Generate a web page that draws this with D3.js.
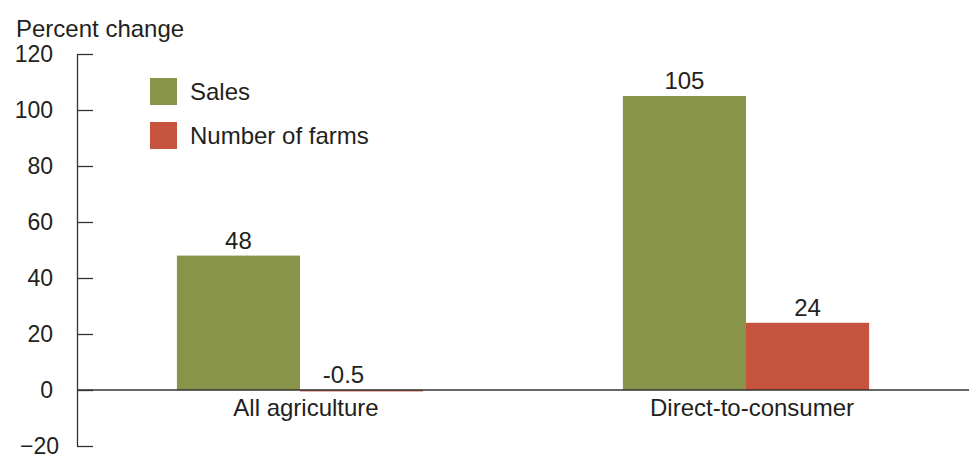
<!DOCTYPE html>
<html>
<head>
<meta charset="utf-8">
<script src="https://cdn.jsdelivr.net/npm/d3@7"></script>
<style>
  body { margin: 0; background: #fff; }
  text { font-family: "Liberation Sans", Arial, sans-serif; fill: #231f20; }
</style>
</head>
<body>
<svg id="chart" width="977" height="461"></svg>
<script>
// data
const categories = ["All agriculture", "Direct-to-consumer"];
const seriesNames = ["Sales", "Number of farms"];
const sales = [48, 105];
const farms = [-0.5, 24];
const valueLabels = [["48", "-0.5"], ["105", "24"]];
const yTicks = [-20, 0, 20, 40, 60, 80, 100, 120];

const colors = ["#88944a", "#c5533d"];

var svg = d3.select("#chart"),
    mLeft = 77, mRight = 969, mTop = 54, mBottom = 446;

var y = d3.scaleLinear().domain([-20, 120]).range([mBottom, mTop]);

var x = d3.scaleBand()
    .domain(categories)
    .range([mLeft, mRight])
    .paddingInner(0.448)
    .paddingOuter(0.224);

var xs = d3.scaleBand()
    .domain(seriesNames)
    .range([0, x.bandwidth()]);

// y axis
var yAxis = svg.append("g")
    .attr("transform", "translate(" + mLeft + ",0)")
    .call(d3.axisRight(y).tickValues(yTicks).tickSize(16).tickSizeOuter(0).tickFormat(""));
yAxis.select(".domain").attr("stroke", "#333").attr("stroke-width", 1.3);
yAxis.selectAll(".tick line").attr("stroke", "#333").attr("stroke-width", 1.3);

svg.append("g").selectAll("text")
    .data(yTicks)
    .enter().append("text")
    .attr("x", function(d) { return d < 0 ? 59 : 53; })
    .attr("y", function(d) { return y(d); })
    .attr("dy", "0.36em")
    .attr("text-anchor", "end")
    .style("font-size", "23px")
    .text(function(d) { return d < 0 ? "\u2212" + Math.abs(d) : d; });

svg.append("text")
    .attr("x", 16)
    .attr("y", 37)
    .style("font-size", "24px")
    .text("Percent change");

// bars
var rows = categories.map(function(c, i) {
  return { cat: c, vals: [sales[i], farms[i]], labels: valueLabels[i] };
});

var grp = svg.selectAll(".grp")
    .data(rows)
    .enter().append("g")
    .attr("transform", function(d) { return "translate(" + x(d.cat) + ",0)"; });

grp.selectAll("rect")
    .data(function(d) { return d.vals.map(function(v, j) { return { v: v, s: seriesNames[j], j: j }; }); })
    .enter().append("rect")
    .attr("x", function(d) { return xs(d.s); })
    .attr("width", xs.bandwidth())
    .attr("y", function(d) { return y(Math.max(0, d.v)); })
    .attr("height", function(d) { return Math.abs(y(d.v) - y(0)); })
    .attr("fill", function(d) { return colors[d.j]; });

grp.selectAll(".val")
    .data(function(d) { return d.vals.map(function(v, j) { return { v: v, s: seriesNames[j], t: d.labels[j] }; }); })
    .enter().append("text")
    .attr("class", "val")
    .attr("x", function(d) { return xs(d.s) + xs.bandwidth() / 2 - (d.v < 0 ? 18 : 0); })
    .attr("y", function(d) { return y(Math.max(0, d.v)) - 7; })
    .attr("text-anchor", "middle")
    .style("font-size", "24px")
    .text(function(d) { return d.t; });

// zero line
svg.append("line")
    .attr("x1", mLeft).attr("x2", mRight)
    .attr("y1", y(0)).attr("y2", y(0))
    .attr("stroke", "#333").attr("stroke-width", 1.3);

// category labels
svg.selectAll(".cat")
    .data(categories)
    .enter().append("text")
    .attr("x", function(d) { return x(d) + x.bandwidth() / 2 + 6; })
    .attr("y", 416)
    .attr("text-anchor", "middle")
    .style("font-size", "24px")
    .text(function(d) { return d; });

// legend
var leg = svg.selectAll(".leg")
    .data(seriesNames)
    .enter().append("g")
    .attr("transform", function(d, i) { return "translate(150," + (78 + i * 44) + ")"; });
leg.append("rect")
    .attr("width", 27).attr("height", 27)
    .attr("fill", function(d, i) { return colors[i]; });
leg.append("text")
    .attr("x", 40).attr("y", 13.5)
    .attr("dy", "0.36em")
    .style("font-size", "24px")
    .text(function(d) { return d; });
</script>
</body>
</html>
